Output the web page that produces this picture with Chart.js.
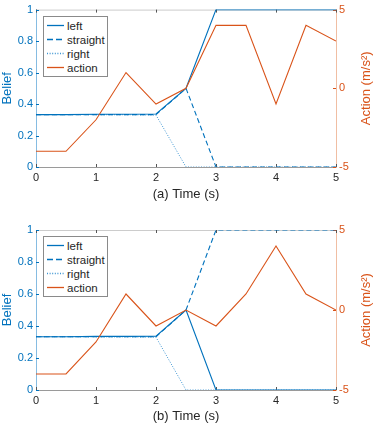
<!DOCTYPE html>
<html>
<head>
<meta charset="utf-8">
<script src="https://cdn.jsdelivr.net/npm/chart.js@4/dist/chart.umd.min.js"></script>
<style>
  html, body { margin: 0; padding: 0; background: #fff; }
  .wrap { position: absolute; left: 0; width: 374px; }
  canvas { display: block; }
  .legend { position: absolute; background: #fff; border: 1px solid #8a8a8a; box-sizing: border-box;
            font: 11.5px "Liberation Sans", Arial, Helvetica, sans-serif; color: #262626; }
  .legend .row { position: absolute; left: 2px; height: 14px; display: flex; align-items: center; }
  .legend svg { display: block; margin-right: 2px; }
</style>
</head>
<body>
<div class="wrap" style="top:0px;height:213px"><canvas id="c1" width="374" height="213"></canvas></div>
<div class="wrap" style="top:213px;height:214px"><canvas id="c2" width="374" height="214"></canvas></div>
<script>
// ---- data ----
const times = [0, 0.5, 1, 1.5, 2, 2.5, 3, 3.5, 4, 4.5, 5];

const leftA     = [0.333, 0.333, 0.335, 0.335, 0.337, 0.5, 1, 1, 1, 1, 1];
const straightA = [0.333, 0.333, 0.333, 0.333, 0.333, 0.5, 0, 0, 0, 0, 0];
const rightA    = [0.333, 0.333, 0.332, 0.332, 0.330, 0,   0, 0, 0, 0, 0];
const actionA   = [-4, -4, -2, 1, -1, 0, 4, 4, -1, 4, 3];

const leftB     = [0.333, 0.333, 0.335, 0.335, 0.337, 0.5, 0, 0, 0, 0, 0];
const straightB = [0.333, 0.333, 0.333, 0.333, 0.333, 0.5, 1, 1, 1, 1, 1];
const rightB    = [0.333, 0.333, 0.332, 0.332, 0.330, 0,   0, 0, 0, 0, 0];
const actionB   = [-4, -4, -2, 1, -1, 0, -1, 1, 4, 1, 0];

const beliefTicks = [0, 0.2, 0.4, 0.6, 0.8, 1];
const actionTicks = [-5, 0, 5];
const timeTicks = [0, 1, 2, 3, 4, 5];
const seriesNames = ['left', 'straight', 'right', 'action'];

// ---- styles ----
const BLUE = '#0072BD';
const ORANGE = '#D95319';
const DARK = '#262626';
const FAMILY = '"Liberation Sans", Arial, Helvetica, sans-serif';
Chart.defaults.font.family = FAMILY;

const pts = (ys) => times.map((t, i) => ({ x: t, y: ys[i] }));

const dsStyles = [
  { color: BLUE, width: 1.1, dash: [] },
  { color: BLUE, width: 1.1, dash: [5, 3] },
  { color: '#3d95d2', width: 1, dash: [1, 1.6] },
  { color: ORANGE, width: 1.1, dash: [] }
];
const legendDash = ['', '6,3', '1,1.6', ''];

const framePlugin = {
  id: 'frame',
  beforeDatasetsDraw(chart) {
    const { ctx, chartArea: a } = chart;
    ctx.save();
    ctx.setLineDash([]);
    ctx.strokeStyle = '#cccccc';
    ctx.lineWidth = 1;
    ctx.beginPath();
    ctx.moveTo(a.left, a.top + 0.5);
    ctx.lineTo(a.right, a.top + 0.5);
    ctx.stroke();
    // inner ticks
    const xs = chart.scales.x, yl = chart.scales.y, yr = chart.scales.y2;
    ctx.strokeStyle = '#555555';
    timeTicks.forEach(t => {
      const px = Math.round(xs.getPixelForValue(t)) + 0.5;
      ctx.beginPath();
      ctx.moveTo(px, a.bottom); ctx.lineTo(px, a.bottom - 3);
      ctx.moveTo(px, a.top); ctx.lineTo(px, a.top + 3);
      ctx.stroke();
    });
    ctx.strokeStyle = BLUE;
    beliefTicks.forEach(v => {
      const py = Math.round(yl.getPixelForValue(v)) + 0.5;
      ctx.beginPath(); ctx.moveTo(a.left, py); ctx.lineTo(a.left + 3, py); ctx.stroke();
    });
    ctx.strokeStyle = ORANGE;
    actionTicks.forEach(v => {
      const py = Math.round(yr.getPixelForValue(v)) + 0.5;
      ctx.beginPath(); ctx.moveTo(a.right, py); ctx.lineTo(a.right - 3, py); ctx.stroke();
    });
    ctx.restore();
  },
  afterDraw(chart) {
    const { ctx, chartArea: a } = chart;
    ctx.save();
    ctx.translate(366, (a.top + a.bottom) / 2);
    ctx.rotate(-Math.PI / 2);
    ctx.fillStyle = ORANGE;
    ctx.font = '13px ' + FAMILY;
    ctx.textAlign = 'center';
    ctx.textBaseline = 'middle';
    ctx.fillText('Action (m/s²)', 0, 0);
    ctx.restore();
  }
};

function addLegend(chart, wrapTop) {
  const a = chart.chartArea;
  const box = document.createElement('div');
  box.className = 'legend';
  box.style.left = (a.left + 7) + 'px';
  box.style.top = (wrapTop + a.top + 6) + 'px';
  box.style.width = '65px';
  box.style.height = '61px';
  seriesNames.forEach((name, i) => {
    const row = document.createElement('div');
    row.className = 'row';
    row.style.top = (2 + i * 14) + 'px';
    const st = dsStyles[i];
    row.innerHTML =
      '<svg width="19" height="14"><line x1="1" y1="6.5" x2="18" y2="6.5" stroke="' + st.color +
      '" stroke-width="1.3"' + (legendDash[i] ? ' stroke-dasharray="' + legendDash[i] + '"' : '') +
      '/></svg><span>' + name + '</span>';
    box.appendChild(row);
  });
  document.body.appendChild(box);
}

function makeChart(id, left, straight, right, action, label, topPad, xHeight, titlePadBottom) {
  const datasets = [left, straight, right, action].map((arr, i) => ({
    label: seriesNames[i],
    data: pts(arr),
    yAxisID: i === 3 ? 'y2' : 'y',
    borderColor: dsStyles[i].color,
    backgroundColor: dsStyles[i].color,
    borderWidth: dsStyles[i].width,
    borderDash: dsStyles[i].dash,
    pointRadius: 0,
    tension: 0,
    fill: false,
    order: i === 3 ? 0 : 1
  }));
  return new Chart(document.getElementById(id), {
    type: 'line',
    data: { datasets },
    options: {
      responsive: false,
      animation: false,
      devicePixelRatio: 1,
      layout: { padding: { top: topPad, left: 0, right: 0, bottom: 0 } },
      plugins: { legend: { display: false }, tooltip: { enabled: false } },
      scales: {
        x: {
          type: 'linear', min: 0, max: 5,
          afterBuildTicks: s => { s.ticks = timeTicks.map(v => ({ value: v })); },
          ticks: { color: DARK, font: { size: 11 }, padding: 4, maxRotation: 0, autoSkip: false },
          grid: { display: false, drawTicks: false },
          border: { color: '#9a9a9a', width: 1 },
          title: { display: true, text: label, color: DARK, font: { size: 13, lineHeight: 1.2 }, padding: { top: 0, bottom: titlePadBottom } },
          afterFit: s => { s.height = xHeight; }
        },
        y: {
          position: 'left', min: 0, max: 1,
          afterBuildTicks: s => { s.ticks = beliefTicks.map(v => ({ value: v })); },
          ticks: { color: BLUE, font: { size: 11 }, padding: 3, callback: v => String(+Number(v).toFixed(1)) },
          grid: { display: false, drawTicks: false },
          border: { color: '#86bce2', width: 1 },
          title: { display: true, text: 'Belief', color: BLUE, font: { size: 13, lineHeight: 1.2 }, padding: { top: 0, bottom: 0 } },
          afterFit: s => { s.width = 36; }
        },
        y2: {
          position: 'right', min: -5, max: 5,
          afterBuildTicks: s => { s.ticks = actionTicks.map(v => ({ value: v })); },
          ticks: { color: ORANGE, font: { size: 11 }, padding: 3 },
          grid: { display: false, drawTicks: false },
          border: { color: '#f0bea3', width: 1 },
          afterFit: s => { s.width = 38; }
        }
      }
    },
    plugins: [framePlugin]
  });
}

const ch1 = makeChart('c1', leftA, straightA, rightA, actionA, '(a) Time (s)', 7, 46, 11);
const ch2 = makeChart('c2', leftB, straightB, rightB, actionB, '(b) Time (s)', 17, 37, 3);
addLegend(ch1, 0);
addLegend(ch2, 213);
</script>
</body>
</html>
